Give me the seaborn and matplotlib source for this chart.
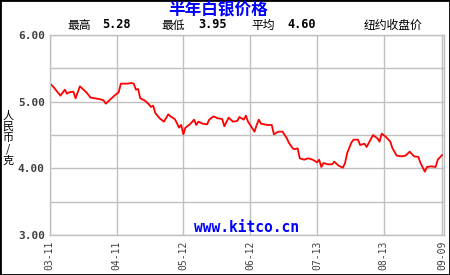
import matplotlib
matplotlib.use("Agg")
import matplotlib.pyplot as plt
from matplotlib.patches import Rectangle
import seaborn as sns
import pandas as pd

# ---- data ----
dates = [
    "2022-03-11", "2022-03-13", "2022-03-15", "2022-03-16", "2022-03-18", "2022-03-19",
    "2022-03-20", "2022-03-22", "2022-03-23", "2022-03-25", "2022-03-26", "2022-03-28",
    "2022-03-30", "2022-04-01", "2022-04-03", "2022-04-05", "2022-04-06", "2022-04-08",
    "2022-04-10", "2022-04-12", "2022-04-13", "2022-04-16", "2022-04-18", "2022-04-19",
    "2022-04-20", "2022-04-21", "2022-04-22", "2022-04-24", "2022-04-25", "2022-04-26",
    "2022-04-27", "2022-04-28", "2022-04-29", "2022-05-01", "2022-05-03", "2022-05-05",
    "2022-05-06", "2022-05-08", "2022-05-09", "2022-05-10", "2022-05-11", "2022-05-12",
    "2022-05-13", "2022-05-15", "2022-05-17", "2022-05-18", "2022-05-19", "2022-05-21",
    "2022-05-23", "2022-05-24", "2022-05-26", "2022-05-28", "2022-05-30", "2022-05-31",
    "2022-06-02", "2022-06-04", "2022-06-06", "2022-06-07", "2022-06-09", "2022-06-10",
    "2022-06-11", "2022-06-14", "2022-06-15", "2022-06-16", "2022-06-17", "2022-06-20",
    "2022-06-22", "2022-06-23", "2022-06-25", "2022-06-27", "2022-06-29", "2022-06-30",
    "2022-07-02", "2022-07-03", "2022-07-04", "2022-07-05", "2022-07-07", "2022-07-09",
    "2022-07-11", "2022-07-13", "2022-07-14", "2022-07-15", "2022-07-16", "2022-07-18",
    "2022-07-20", "2022-07-21", "2022-07-23", "2022-07-25", "2022-07-26", "2022-07-27",
    "2022-07-29", "2022-07-30", "2022-08-01", "2022-08-02", "2022-08-04", "2022-08-05",
    "2022-08-07", "2022-08-08", "2022-08-10", "2022-08-11", "2022-08-12", "2022-08-14",
    "2022-08-16", "2022-08-17", "2022-08-19", "2022-08-21", "2022-08-23", "2022-08-25",
    "2022-08-27", "2022-08-29", "2022-08-30", "2022-09-01", "2022-09-02", "2022-09-04",
    "2022-09-06", "2022-09-07", "2022-09-09",
]
prices = [
    5.28, 5.21, 5.13, 5.09, 5.18, 5.12,
    5.14, 5.15, 5.05, 5.23, 5.20, 5.14,
    5.06, 5.05, 5.04, 5.02, 4.97, 5.03,
    5.09, 5.14, 5.27, 5.27, 5.28, 5.27,
    5.18, 5.19, 5.05, 5.02, 4.99, 4.96,
    4.92, 4.94, 4.83, 4.75, 4.70, 4.81,
    4.78, 4.74, 4.68, 4.61, 4.65, 4.51,
    4.61, 4.66, 4.73, 4.65, 4.70, 4.67,
    4.66, 4.73, 4.78, 4.75, 4.74, 4.63,
    4.76, 4.70, 4.71, 4.77, 4.73, 4.79,
    4.70, 4.55, 4.65, 4.73, 4.67, 4.65,
    4.65, 4.51, 4.55, 4.55, 4.45, 4.38,
    4.29, 4.29, 4.30, 4.15, 4.13, 4.15,
    4.13, 4.09, 4.13, 4.02, 4.08, 4.06,
    4.06, 4.10, 4.04, 4.01, 4.08, 4.23,
    4.39, 4.43, 4.43, 4.35, 4.37, 4.32,
    4.44, 4.50, 4.45, 4.40, 4.52, 4.47,
    4.40, 4.30, 4.19, 4.18, 4.19, 4.25,
    4.18, 4.17, 4.08, 3.95, 4.02, 4.03,
    4.02, 4.13, 4.20,
]
tick_dates = ["2022-03-11", "2022-04-11", "2022-05-12", "2022-06-12",
              "2022-07-13", "2022-08-13", "2022-09-09"]
tick_labels = ["03-11", "04-11", "05-12", "06-12", "07-13", "08-13", "09-09"]
y_major = [3.0, 4.0, 5.0, 6.0]
y_minor = [3.5, 4.5, 5.5]
title_text = "半年白银价格"
stat_names = ["最高", "最低", "平均"]
stat_values = ["5.28", "3.95", "4.60"]
right_note = "纽约收盘价"
ylabel_text = "人民币/克"
watermark = "www.kitco.cn"

df = pd.DataFrame({"date": pd.to_datetime(dates), "price": prices})

sns.set_style("white")
plt.rcParams["font.family"] = ["Noto Sans CJK SC", "DejaVu Sans"]

fig = plt.figure(figsize=(4.5, 2.75), dpi=100, facecolor="white")
ax = fig.add_axes([49.7 / 450, 1 - 235 / 275, (444 - 49.7) / 450, 200 / 275])
ax.set_facecolor("white")

sns.lineplot(data=df, x="date", y="price", ax=ax, color="#FF0000", linewidth=1.3)

ax.set_ylim(3.0, 6.0)
ax.set_xlim(pd.Timestamp("2022-03-11"), pd.Timestamp("2022-09-09") + pd.Timedelta(days=0.9))

ax.set_yticks(y_major)
ax.set_yticks(y_minor, minor=True)
ax.set_yticklabels([f"{v:.2f}" for v in y_major], family="DejaVu Sans Mono",
                   fontweight="bold", fontsize=8, color="#404040")
ax.set_xticks(pd.to_datetime(tick_dates))
ax.set_xticklabels(tick_labels, rotation=90, family="DejaVu Sans Mono",
                   fontsize=7, color="#404040")
ax.tick_params(axis="both", which="both", length=0)
ax.tick_params(axis="y", pad=3.5)
ax.tick_params(axis="x", pad=4)

ax.grid(True, which="both", color="#C0C0C0", linewidth=1.0)
ax.set_axisbelow(True)
for s in ax.spines.values():
    s.set_color("#C0C0C0")
    s.set_linewidth(1.0)
ax.set_xlabel("")
ax.set_ylabel("")

# header texts
fig.text(218.5 / 450, 1 - 10 / 275, title_text, ha="center", va="center",
         fontsize=12, fontweight="bold", color="#0000FF")
name_x = [79.5, 173, 263]
val_x = [116.5, 212.5, 301.5]
for nx, vx, n, v in zip(name_x, val_x, stat_names, stat_values):
    fig.text(nx / 450, 1 - 25 / 275, n, ha="center", va="center", fontsize=8.5, color="black")
    fig.text(vx / 450, 1 - 25 / 275, v, ha="center", va="center", fontsize=8.6,
             family="DejaVu Sans Mono", fontweight="bold", color="black")
fig.text(393 / 450, 1 - 25 / 275, right_note, ha="center", va="center", fontsize=8.5, color="black")

# vertical y label (stacked characters)
fig.text(8 / 450, 1 - 138 / 275, "\n".join(list(ylabel_text)), ha="center", va="center",
         fontsize=8, linespacing=1.12, color="black")

# watermark
ax.text(0.5, 1 - (228 - 35) / 200, watermark, transform=ax.transAxes, ha="center",
        va="center", fontsize=10.5, family="DejaVu Sans Mono", fontweight="bold", color="#0000FF")

# outer frame
fig.patches.append(Rectangle((0, 0), 1, 1, transform=fig.transFigure, fill=False,
                             edgecolor="black", linewidth=2.0))

fig.savefig("out.png", dpi=100, facecolor="white")
